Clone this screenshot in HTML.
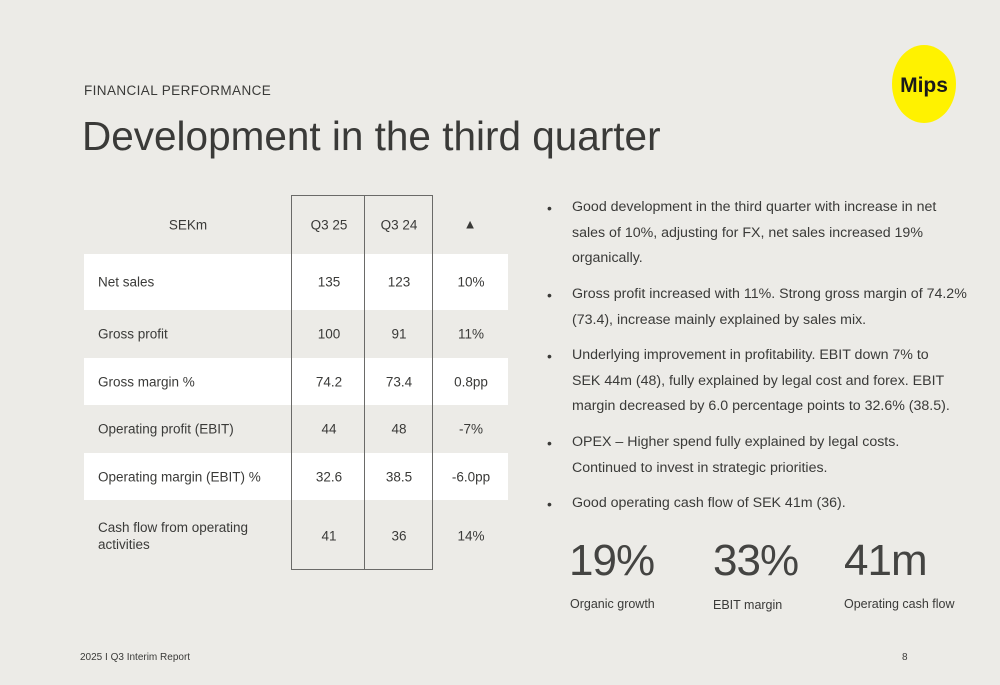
<!DOCTYPE html>
<html><head><meta charset="utf-8"><style>
body{margin:0;width:1000px;height:685px;background:#ECEBE7;font-family:"Liberation Sans",sans-serif;color:#3a3a38;position:relative;overflow:hidden}
.a{position:absolute;white-space:nowrap}
.row{position:absolute;left:84px;width:424px;background:#fff}
.c{position:absolute;font-size:13.5px;transform:translate(-50%,-50%);white-space:nowrap}
.l{position:absolute;font-size:13.5px;left:98px;transform:translateY(-50%);white-space:nowrap}
.box{position:absolute;top:195px;height:375px;border:1px solid #6a6a68;box-sizing:border-box}
.b{position:absolute;left:547px;font-size:14px}
.t{position:absolute;left:572px;font-size:14.2px;line-height:25.5px;white-space:nowrap}
.big{position:absolute;font-size:44px;top:536px;color:#444442;letter-spacing:-1px}
.sm{position:absolute;font-size:12.5px;top:597px}
</style></head><body>
<div class="a" style="left:84px;top:83px;font-size:13.5px;letter-spacing:0.4px">FINANCIAL PERFORMANCE</div>
<div class="a" style="left:82px;top:113px;font-size:40.5px;color:#3a3a38">Development in the third quarter</div>
<svg class="a" style="left:888px;top:43px" width="72" height="82"><ellipse cx="36" cy="41" rx="32" ry="39" fill="#FFF200"/><text x="36" y="49" text-anchor="middle" font-family="Liberation Sans" font-weight="bold" font-size="21" fill="#1a1a1a">Mips</text></svg>

<div>
<div class="row" style="top:254px;height:56px"></div>
<div class="row" style="top:358px;height:47px"></div>
<div class="row" style="top:453px;height:47px"></div>
<div class="box" style="left:291px;width:74px"></div>
<div class="box" style="left:364px;width:69px"></div>

<div class="c" style="left:188px;top:225px">SEKm</div>
<div class="c" style="left:329px;top:225px">Q3 25</div>
<div class="c" style="left:399px;top:225px">Q3 24</div>
<div class="c" style="left:470px;top:224px;font-size:13px">▲</div>

<div class="l" style="top:282px">Net sales</div>
<div class="c" style="left:329px;top:282px">135</div>
<div class="c" style="left:399px;top:282px">123</div>
<div class="c" style="left:471px;top:282px">10%</div>

<div class="l" style="top:334px">Gross profit</div>
<div class="c" style="left:329px;top:334px">100</div>
<div class="c" style="left:399px;top:334px">91</div>
<div class="c" style="left:471px;top:334px">11%</div>

<div class="l" style="top:382px">Gross margin %</div>
<div class="c" style="left:329px;top:382px">74.2</div>
<div class="c" style="left:399px;top:382px">73.4</div>
<div class="c" style="left:471px;top:382px">0.8pp</div>

<div class="l" style="top:429px">Operating profit (EBIT)</div>
<div class="c" style="left:329px;top:429px">44</div>
<div class="c" style="left:399px;top:429px">48</div>
<div class="c" style="left:471px;top:429px">-7%</div>

<div class="l" style="top:477px">Operating margin (EBIT) %</div>
<div class="c" style="left:329px;top:477px">32.6</div>
<div class="c" style="left:399px;top:477px">38.5</div>
<div class="c" style="left:471px;top:477px">-6.0pp</div>

<div class="l" style="top:536px;line-height:17px">Cash flow from operating<br>activities</div>
<div class="c" style="left:329px;top:536px">41</div>
<div class="c" style="left:399px;top:536px">36</div>
<div class="c" style="left:471px;top:536px">14%</div>
</div>

<div>
<div class="b" style="top:200px">•</div><div class="t" style="top:195px">Good development in the third quarter with increase in net<br>sales of 10%, adjusting for FX, net sales increased 19%<br>organically.</div>
<div class="b" style="top:287px">•</div><div class="t" style="top:282px">Gross profit increased with 11%. Strong gross margin of 74.2%<br>(73.4), increase mainly explained by sales mix.</div>
<div class="b" style="top:348px">•</div><div class="t" style="top:343px">Underlying improvement in profitability. EBIT down 7% to<br>SEK 44m (48), fully explained by legal cost and forex. EBIT<br>margin decreased by 6.0 percentage points to 32.6% (38.5).</div>
<div class="b" style="top:435px">•</div><div class="t" style="top:430px">OPEX – Higher spend fully explained by legal costs.<br>Continued to invest in strategic priorities.</div>
<div class="b" style="top:496px">•</div><div class="t" style="top:491px">Good operating cash flow of SEK 41m (36).</div>
</div>

<div class="big" style="left:569px">19%</div>
<div class="sm" style="left:570px">Organic growth</div>
<div class="big" style="left:713px">33%</div>
<div class="sm" style="left:713px;top:598px">EBIT margin</div>
<div class="big" style="left:844px">41m</div>
<div class="sm" style="left:844px">Operating cash flow</div>

<div class="a" style="left:80px;top:652px;font-size:10px">2025 I Q3 Interim Report</div>
<div class="a" style="left:902px;top:652px;font-size:10px">8</div>
</body></html>
